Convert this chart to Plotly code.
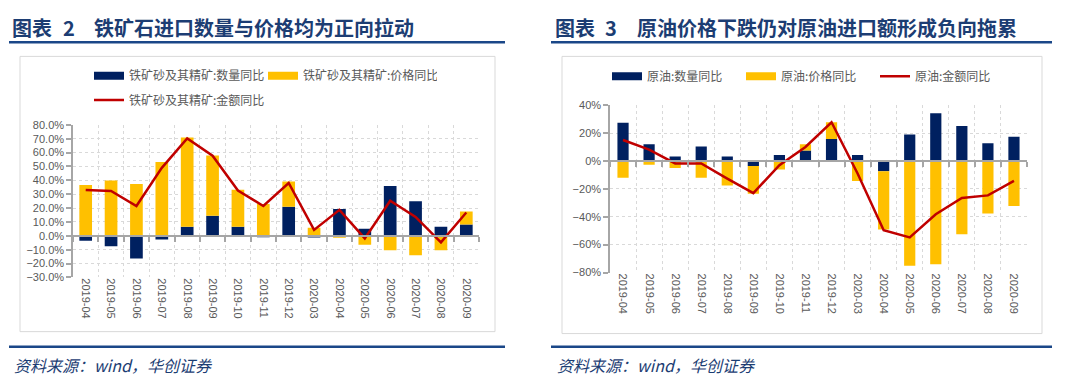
import plotly.graph_objects as go

W, H = 1075, 389

months = ["2019-04", "2019-05", "2019-06", "2019-07", "2019-08", "2019-09",
          "2019-10", "2019-11", "2019-12", "2020-03", "2020-04", "2020-05",
          "2020-06", "2020-07", "2020-08", "2020-09"]

# 图表2 铁矿砂及其精矿 (%)
ore_qty = [-3.5, -7.5, -16.4, -2.6, 6.5, 14.5, 6.5, -1.0, 21.0, -1.2, 19.4, 5.1, 36.0, 25.0, 6.5, 8.2]
ore_price = [36.7, 39.8, 37.4, 53.3, 64.4, 43.5, 26.7, 22.9, 18.1, 5.8, -1.4, -6.5, -10.5, -14.0, -10.5, 9.3]
ore_value = [33.0, 32.3, 21.5, 49.0, 70.2, 57.8, 32.7, 21.5, 38.1, 4.2, 18.7, -1.9, 25.3, 13.6, -4.7, 16.8]

# 图表3 原油 (%)
oil_qty = [27.3, 12.0, 3.2, 10.4, 3.2, -3.7, 4.2, 7.4, 15.7, 4.2, -7.4, 19.0, 34.2, 25.0, 12.7, 17.3]
oil_price = [-12.0, -2.8, -5.1, -12.0, -17.6, -19.9, -6.2, 4.6, 12.0, -14.3, -41.8, -75.1, -74.0, -52.5, -37.7, -32.4]
oil_value = [15.0, 8.1, -1.8, -1.8, -12.7, -23.1, -3.0, 10.0, 27.7, -9.0, -49.7, -54.8, -38.2, -26.6, -24.7, -14.3]

ore_names = ["铁矿砂及其精矿:数量同比", "铁矿砂及其精矿:价格同比", "铁矿砂及其精矿:金额同比"]
oil_names = ["原油:数量同比", "原油:价格同比", "原油:金额同比"]

titles_left = ("图表", "2", "铁矿石进口数量与价格均为正向拉动")
titles_right = ("图表", "3", "原油价格下跌仍对原油进口额形成负向拖累")
source_text = "资料来源：wind，华创证券"

NAVY = "#002060"
GOLD = "#FFC000"
RED = "#C00000"
GRID = "#D9D9D9"
AXIS = "#A6A6A6"
TXT = "#595959"
TITLE = "#1C3D73"
RULE = "#1A4788"

def px(x):
    return x / W

def py(y):
    return 1 - y / H

# plot-area pixel boxes
L = dict(x0=73, x1=479, y0=122.7, y1=280, ymin=-30, ymax=80, dtick=10, fmt=".1f")
R = dict(x0=610, x1=1027, y0=102.3, y1=275, ymin=-80, ymax=40, dtick=20, fmt=".0f")

fig = go.Figure()

def add_panel(qty, price, value, names, xref, yref, zref, leg_bars, leg_line, bw):
    fig.add_trace(go.Bar(x=months, y=qty, name=names[0], marker=dict(color=NAVY, line=dict(width=0)),
                         width=bw, xaxis=xref, yaxis=yref, showlegend=False))
    fig.add_trace(go.Bar(x=months, y=price, name=names[1], marker=dict(color=GOLD, line=dict(width=0)),
                         width=bw, xaxis=xref, yaxis=yref, showlegend=False))
    # legend proxies (wide swatches like Excel)
    fig.add_trace(go.Scatter(x=[None], y=[None], mode="lines", line=dict(color=NAVY, width=8),
                             name=names[0], xaxis=xref, yaxis=yref, legend=leg_bars, legendrank=1))
    fig.add_trace(go.Scatter(x=[None], y=[None], mode="lines", line=dict(color=GOLD, width=8),
                             name=names[1], xaxis=xref, yaxis=yref, legend=leg_bars, legendrank=2))
    fig.add_trace(go.Scatter(x=months, y=value, mode="lines", line=dict(color=RED, width=2.5),
                             name=names[2], xaxis=zref, yaxis=yref, legend=leg_line, legendrank=3))

add_panel(ore_qty, ore_price, ore_value, ore_names, "x", "y", "x3", "legend", "legend2", 0.5)
add_panel(oil_qty, oil_price, oil_value, oil_names, "x2", "y2", "x4", "legend3", "legend3", 0.43)

tickfont = dict(family="Liberation Sans, Arial, sans-serif", size=11, color=TXT)

def axes(P, xa, ya, xz, yname, xname):
    dom_x = [px(P["x0"]), px(P["x1"])]
    dom_y = [py(P["y1"]), py(P["y0"])]
    zero_pos = dom_y[0] + (0 - P["ymin"]) / (P["ymax"] - P["ymin"]) * (dom_y[1] - dom_y[0])
    cat = dict(type="category", categoryorder="array", categoryarray=months, range=[-0.5, len(months) - 0.5])
    fig.layout[xa] = dict(domain=dom_x, anchor=yname, tickangle=90, tickfont=tickfont,
                          showline=False, ticks="", showgrid=True, gridcolor=GRID, griddash="dot",
                          gridwidth=1, tickson="boundaries", zeroline=False, fixedrange=True, **cat)
    fig.layout[ya] = dict(domain=dom_y, anchor=xname, range=[P["ymin"], P["ymax"]], dtick=P["dtick"],
                          tick0=0, ticksuffix="%", tickformat=P["fmt"], tickfont=tickfont,
                          showline=True, linecolor=AXIS, linewidth=1.5, ticks="outside", ticklen=5,
                          tickcolor=AXIS, tickwidth=1.5, showgrid=True, gridcolor=GRID, griddash="dot",
                          gridwidth=1, zeroline=False, fixedrange=True)
    fig.layout[xz] = dict(overlaying=xname, anchor="free", position=zero_pos, showline=True,
                          linecolor=AXIS, linewidth=1.5, ticks="outside", ticklen=5, tickcolor=AXIS,
                          tickwidth=1.5, tickson="boundaries", showticklabels=False, showgrid=False,
                          zeroline=False, fixedrange=True, **cat)

axes(L, "xaxis", "yaxis", "xaxis3", "y", "x")
axes(R, "xaxis2", "yaxis2", "xaxis4", "y2", "x2")

legfont = dict(family="Noto Sans CJK SC, sans-serif", size=12, color=TXT)
leg_common = dict(orientation="h", xanchor="left", yanchor="middle", font=legfont, itemwidth=30,
                  bgcolor="rgba(0,0,0,0)", borderwidth=0, itemclick=False, itemdoubleclick=False,
                  traceorder="normal")
fig.update_layout(
    legend=dict(x=px(89), y=py(72), entrywidth=129, **leg_common),
    legend2=dict(x=px(89), y=py(97), **leg_common),
    legend3=dict(x=px(607), y=py(72.5), entrywidth=89, **leg_common),
)

# chart frames, rules, titles, source
shapes = []
for (x0, y0, x1, y1) in [(20, 52, 495, 336), (562, 52, 1042, 338)]:
    shapes.append(dict(type="rect", xref="paper", yref="paper", x0=px(x0), x1=px(x1), y0=py(y1), y1=py(y0),
                       line=dict(color="#D9D9D9", width=1), fillcolor="rgba(0,0,0,0)", layer="below"))
for (x0, x1) in [(9, 505), (551, 1052)]:
    for yy in (37.5, 351.5):
        shapes.append(dict(type="line", xref="paper", yref="paper", x0=px(x0), x1=px(x1), y0=py(yy), y1=py(yy),
                           line=dict(color=RULE, width=2.5)))

titlefont = dict(family="Noto Sans CJK SC, sans-serif", size=20, color=TITLE, weight="bold")
srcfont = dict(family="Noto Sans CJK SC, sans-serif", size=16, color=TITLE, style="italic")
ann = []
for (xa, xn, xb, t) in [(10, 61, 92, titles_left), (553, 603, 635, titles_right)]:
    for xx, s in ((xa, t[0]), (xn, t[1]), (xb, t[2])):
        ann.append(dict(text=s, x=px(xx), y=py(22), xref="paper", yref="paper", xanchor="left",
                        yanchor="middle", showarrow=False, font=titlefont))
for xs in (12, 555):
    ann.append(dict(text=source_text, x=px(xs), y=py(370), xref="paper", yref="paper", xanchor="left",
                    yanchor="middle", showarrow=False, font=srcfont))

fig.update_layout(
    width=W, height=H, margin=dict(l=0, r=0, t=0, b=0),
    paper_bgcolor="white", plot_bgcolor="white",
    barmode="relative", showlegend=True,
    shapes=shapes, annotations=ann,
    hovermode=False,
)

fig.write_html("out.html", config={"displayModeBar": False},
               post_script="document.body.style.margin='0';document.body.style.overflow='hidden';")
